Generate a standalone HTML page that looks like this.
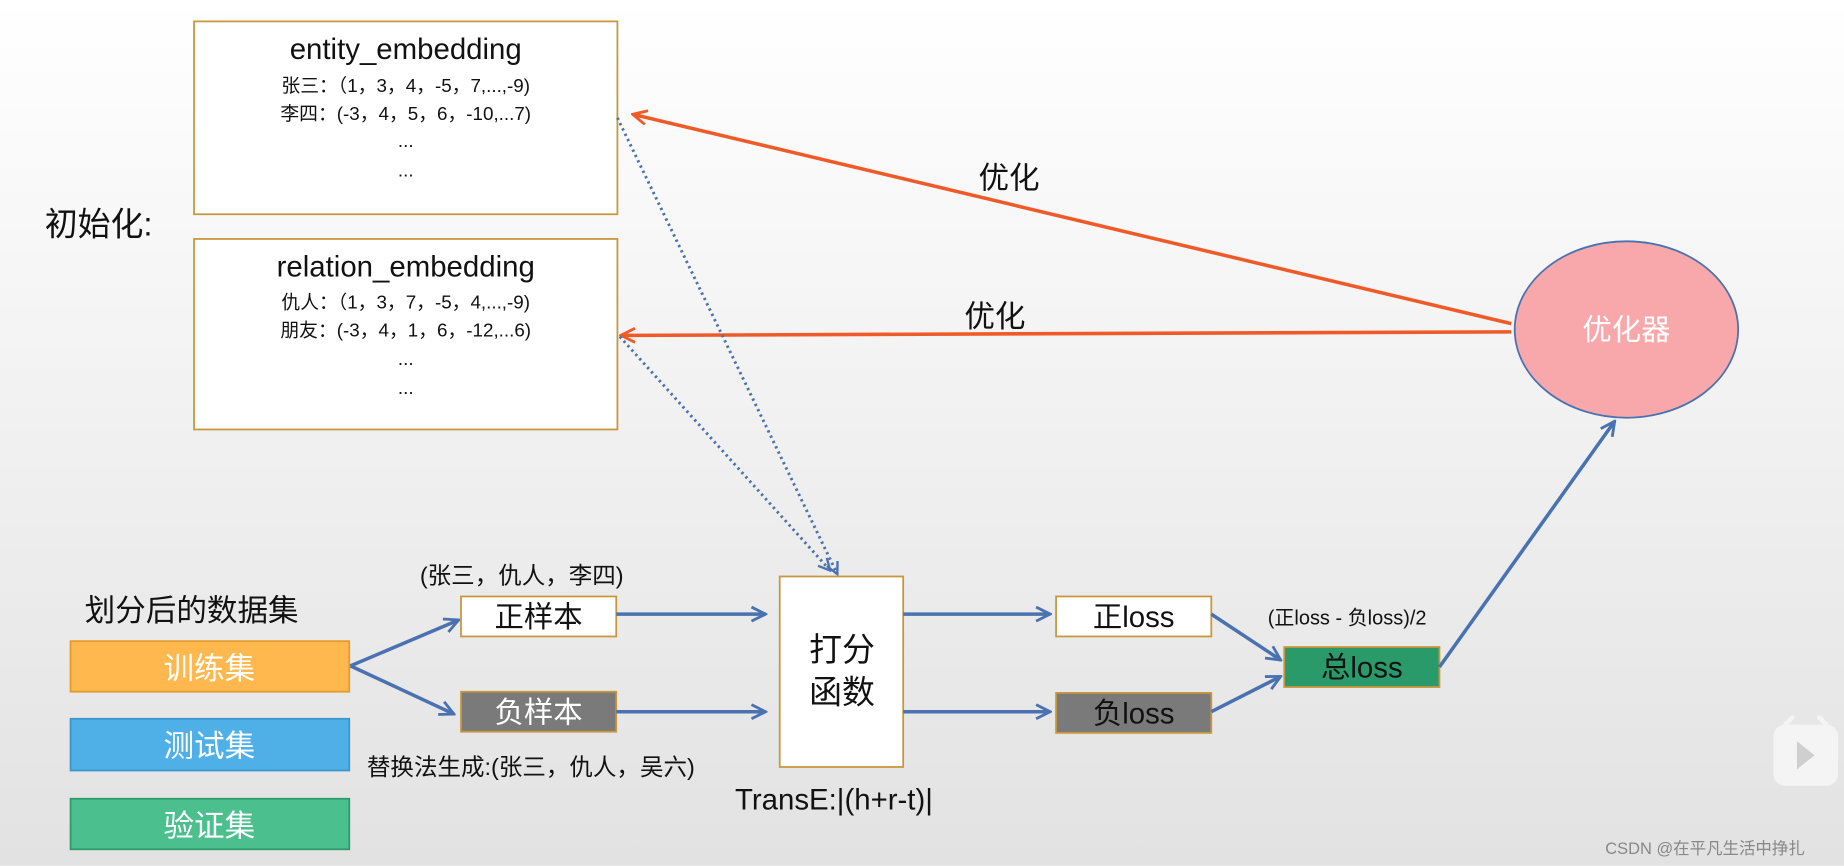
<!DOCTYPE html>
<html><head><meta charset="utf-8"><style>
html,body{margin:0;padding:0;width:1844px;height:866px;overflow:hidden}
svg{display:block}
text{font-family:"Liberation Sans","Noto Sans CJK SC",sans-serif}
</style></head><body>
<svg width="1844" height="866" viewBox="0 0 1568 736" xmlns="http://www.w3.org/2000/svg">
<defs>
<linearGradient id="bg" x1="0" y1="0" x2="0" y2="1"><stop offset="0" stop-color="#ffffff"/><stop offset="1" stop-color="#e2e2e2"/></linearGradient>
<marker id="ab" viewBox="0 0 10 10" refX="9" refY="5" markerWidth="5" markerHeight="5" orient="auto" markerUnits="strokeWidth"><path d="M1,1 L9,5 L1,9" fill="none" stroke="#4a72b0" stroke-width="1.6"/></marker>
<marker id="ao" viewBox="0 0 10 10" refX="9" refY="5" markerWidth="5" markerHeight="5" orient="auto" markerUnits="strokeWidth"><path d="M1,1 L9,5 L1,9" fill="none" stroke="#f05a28" stroke-width="1.6"/></marker>
</defs>
<rect width="1568" height="736" fill="url(#bg)"/>

<!-- entity box -->
<rect x="165" y="18" width="360" height="164" fill="#fff" stroke="#c8963c" stroke-width="1.5"/>
<text x="345" y="50" font-size="25" text-anchor="middle" fill="#111">entity_embedding</text>
<text x="345" y="78" font-size="16" text-anchor="middle" fill="#111">张三：（1，3，4，-5，7,...,-9)</text>
<text x="345" y="102" font-size="16" text-anchor="middle" fill="#111">李四：(-3，4，5，6，-10,...7)</text>
<text x="345" y="125" font-size="16" text-anchor="middle" fill="#111">...</text>
<text x="345" y="150" font-size="16" text-anchor="middle" fill="#111">...</text>

<text x="38" y="200" font-size="28" fill="#111">初始化:</text>

<rect x="165" y="203" width="360" height="162" fill="#fff" stroke="#c8963c" stroke-width="1.5"/>
<text x="345" y="235" font-size="25" text-anchor="middle" fill="#111">relation_embedding</text>
<text x="345" y="262" font-size="16" text-anchor="middle" fill="#111">仇人：（1，3，7，-5，4,...,-9)</text>
<text x="345" y="286" font-size="16" text-anchor="middle" fill="#111">朋友：(-3，4，1，6，-12,...6)</text>
<text x="345" y="310" font-size="16" text-anchor="middle" fill="#111">...</text>
<text x="345" y="335" font-size="16" text-anchor="middle" fill="#111">...</text>

<!-- orange arrows -->
<line x1="1285" y1="275" x2="538" y2="97" stroke="#f05a28" stroke-width="3" marker-end="url(#ao)"/>
<line x1="1285" y1="282" x2="528" y2="285" stroke="#f05a28" stroke-width="3" marker-end="url(#ao)"/>
<text x="832" y="160" font-size="26" fill="#111">优化</text>
<text x="820" y="278" font-size="26" fill="#111">优化</text>

<ellipse cx="1383" cy="280" rx="95" ry="75" fill="#f8a8aa" stroke="#4a72b0" stroke-width="1.5"/>
<text x="1383" y="289" font-size="25" text-anchor="middle" fill="#fff">优化器</text>

<!-- dotted -->
<line x1="525" y1="100" x2="712" y2="488" stroke="#4a72b0" stroke-width="2.5" stroke-dasharray="2,3" marker-end="url(#ab)"/>
<line x1="527" y1="286" x2="706" y2="485" stroke="#4a72b0" stroke-width="2.5" stroke-dasharray="2,3" marker-end="url(#ab)"/>

<!-- scoring -->
<rect x="663" y="490" width="105" height="162" fill="#fff" stroke="#c8963c" stroke-width="1.5"/>
<text x="716" y="562" font-size="28" text-anchor="middle" fill="#111">打分</text>
<text x="716" y="598" font-size="28" text-anchor="middle" fill="#111">函数</text>
<text x="625" y="688" font-size="25" fill="#111">TransE:|(h+r-t)|</text>

<text x="72" y="528" font-size="26" fill="#111">划分后的数据集</text>
<rect x="60" y="545" width="237" height="43" fill="#ffb84d" stroke="#e59a2a" stroke-width="1.5"/>
<text x="178" y="577" font-size="26" text-anchor="middle" fill="#fff">训练集</text>
<rect x="60" y="611" width="237" height="44" fill="#4fb0e8" stroke="#3c96cc" stroke-width="1.5"/>
<text x="178" y="643" font-size="26" text-anchor="middle" fill="#fff">测试集</text>
<rect x="60" y="679" width="237" height="43" fill="#4cbf8f" stroke="#2e9a6c" stroke-width="1.5"/>
<text x="178" y="711" font-size="26" text-anchor="middle" fill="#fff">验证集</text>

<line x1="298" y1="566" x2="390" y2="527" stroke="#4a72b0" stroke-width="3" marker-end="url(#ab)"/>
<line x1="298" y1="566" x2="386" y2="607" stroke="#4a72b0" stroke-width="3" marker-end="url(#ab)"/>

<text x="357" y="496" font-size="20" fill="#111">(张三，仇人，李四)</text>
<rect x="392" y="507" width="132" height="34" fill="#fff" stroke="#c8963c" stroke-width="1.5"/>
<text x="458" y="533" font-size="25" text-anchor="middle" fill="#111">正样本</text>
<rect x="392" y="588" width="132" height="34" fill="#7a7a7a" stroke="#c8963c" stroke-width="1.5"/>
<text x="458" y="614" font-size="25" text-anchor="middle" fill="#fff">负样本</text>
<text x="312" y="659" font-size="20" fill="#111">替换法生成:(张三，仇人，吴六)</text>

<line x1="524" y1="522" x2="651" y2="522" stroke="#4a72b0" stroke-width="3" marker-end="url(#ab)"/>
<line x1="524" y1="605" x2="651" y2="605" stroke="#4a72b0" stroke-width="3" marker-end="url(#ab)"/>
<line x1="768" y1="522" x2="893" y2="522" stroke="#4a72b0" stroke-width="3" marker-end="url(#ab)"/>
<line x1="768" y1="605" x2="893" y2="605" stroke="#4a72b0" stroke-width="3" marker-end="url(#ab)"/>

<rect x="898" y="507" width="132" height="34" fill="#fff" stroke="#c8963c" stroke-width="1.5"/>
<text x="964" y="533" font-size="25" text-anchor="middle" fill="#111">正loss</text>
<rect x="898" y="589" width="132" height="34" fill="#7a7a7a" stroke="#c8963c" stroke-width="1.5"/>
<text x="964" y="615" font-size="25" text-anchor="middle" fill="#111">负loss</text>

<text x="1078" y="531" font-size="17" fill="#111">(正loss - 负loss)/2</text>
<rect x="1092" y="550" width="132" height="34" fill="#2a9a6a" stroke="#c8963c" stroke-width="1.5"/>
<text x="1158" y="576" font-size="25" text-anchor="middle" fill="#111">总loss</text>

<line x1="1030" y1="522" x2="1089" y2="561" stroke="#4a72b0" stroke-width="3" marker-end="url(#ab)"/>
<line x1="1030" y1="605" x2="1089" y2="575" stroke="#4a72b0" stroke-width="3" marker-end="url(#ab)"/>
<line x1="1224" y1="567" x2="1373" y2="358" stroke="#4a72b0" stroke-width="3" marker-end="url(#ab)"/>

<!-- watermark icon -->
<rect x="1508" y="616" width="55" height="52" rx="10" fill="#f4f4f4"/>
<path d="M1518,616 l6,-6 M1553,616 l-6,-6" stroke="#f4f4f4" stroke-width="4" stroke-linecap="round"/>
<path d="M1528,630 L1543,642 L1528,654 Z" fill="#cfcfcf"/>
<text x="1365" y="726" font-size="14" fill="#888">CSDN @在平凡生活中挣扎</text>
</svg>
</body></html>
